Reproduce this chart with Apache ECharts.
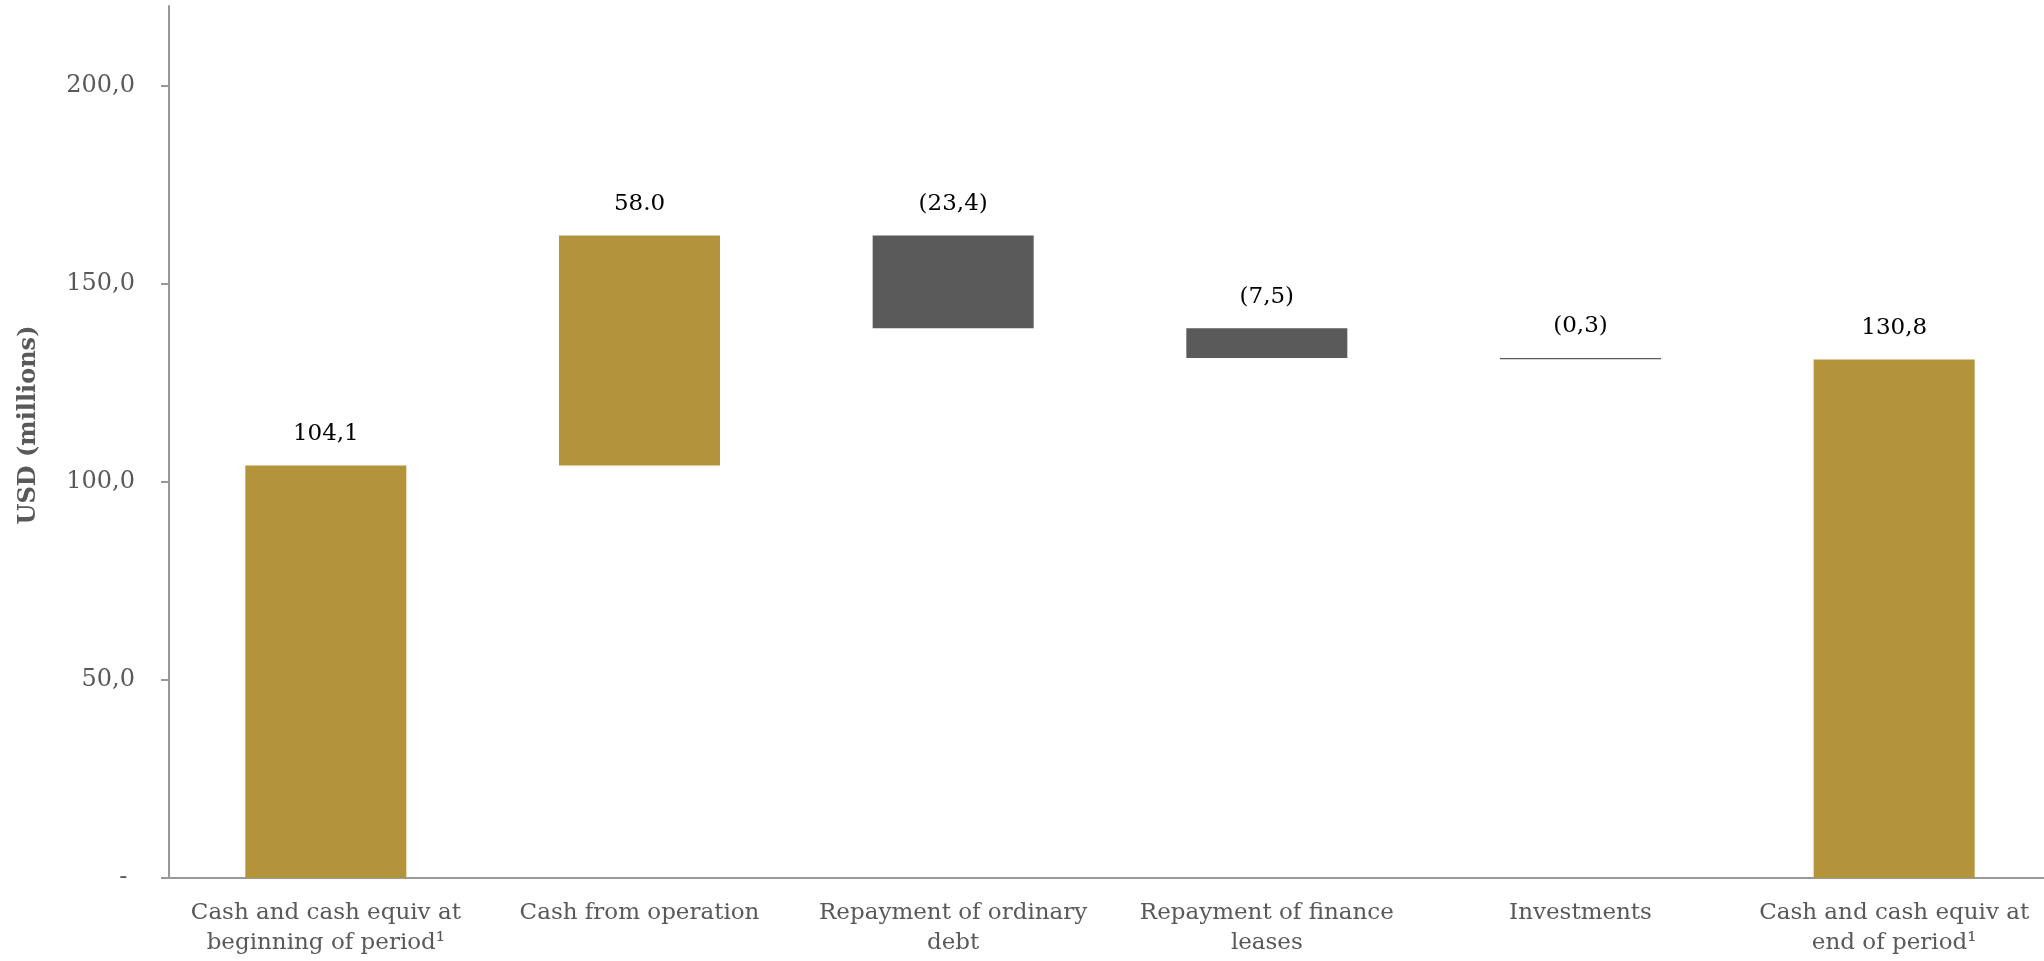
<!DOCTYPE html>
<html>
<head>
<meta charset="utf-8">
<script src="https://cdn.jsdelivr.net/npm/echarts@6/dist/echarts.min.js"></script>
<style>
html,body{margin:0;padding:0;background:#fff;}
#chart{width:2044px;height:961px;}
</style>
</head>
<body>
<div id="chart"></div>
<script>
const categories = [
  "Cash and cash equiv at\nbeginning of period\u00b9",
  "Cash from operation",
  "Repayment of ordinary\ndebt",
  "Repayment of finance\nleases",
  "Investments",
  "Cash and cash equiv at\nend of period\u00b9"
];
// signed movements; first and last are totals
const startValue = 104.1;
const changes = [58.0, -23.4, -7.5, -0.3];
const endValue = 130.8;
const valueLabels = ["104,1", "58.0", "(23,4)", "(7,5)", "(0,3)", "130,8"];
const yTickValues = [0, 50, 100, 150, 200];
const yTickLabels = ["- ", "50,0", "100,0", "150,0", "200,0"];

const GOLD = "#B3943A", GREY = "#5A5A5A";
const base = [], visible = [], colors = [];
base.push(0); visible.push(startValue); colors.push(GOLD);
let run = startValue;
changes.forEach(c => {
  const next = run + c;
  base.push(Math.min(run, next));
  visible.push(Math.abs(c));
  colors.push(c >= 0 ? GOLD : GREY);
  run = next;
});
base.push(0); visible.push(endValue); colors.push(GOLD);

const FONT = "DejaVu Serif";
const chart = echarts.init(document.getElementById("chart"));
chart.setOption({
  animation: false,
  backgroundColor: "#fff",
  grid: { left: 169, top: 6, width: 1882, bottom: 83, containLabel: false, outerBoundsMode: "none" },
  xAxis: {
    type: "category",
    data: categories,
    axisLine: { lineStyle: { color: "#999", width: 2 } },
    axisTick: { show: false },
    axisLabel: { color: "#595959", fontFamily: FONT, fontSize: 23, lineHeight: 30, margin: 20, interval: 0 }
  },
  yAxis: {
    type: "value",
    min: 0, max: 220, interval: 50,
    name: "USD (millions)",
    nameLocation: "middle",
    nameGap: 128,
    nameRotate: 90,
    nameTextStyle: { color: "#595959", fontFamily: FONT, fontWeight: "bold", fontSize: 24, padding: [0, 0, 0, 34] },
    splitLine: { show: false },
    axisLine: { show: true, lineStyle: { color: "#999", width: 2 } },
    axisTick: { show: true, length: 8, customValues: yTickValues, lineStyle: { color: "#999", width: 2 } },
    axisLabel: {
      customValues: yTickValues,
      color: "#595959", fontFamily: FONT, fontSize: 24, margin: 34,
      formatter: v => { const i = yTickValues.indexOf(v); return i >= 0 ? yTickLabels[i] : ""; }
    }
  },
  series: [
    {
      type: "bar", stack: "w", barWidth: 161, silent: true,
      itemStyle: { color: "transparent" },
      data: base
    },
    {
      type: "bar", stack: "w", barWidth: 161,
      data: visible.map((v, i) => ({ value: v, itemStyle: { color: colors[i] } })),
      label: {
        show: true, position: "top", distance: 20,
        color: "#000", fontFamily: FONT, fontSize: 23,
        formatter: p => valueLabels[p.dataIndex]
      }
    }
  ]
});
</script>
</body>
</html>
